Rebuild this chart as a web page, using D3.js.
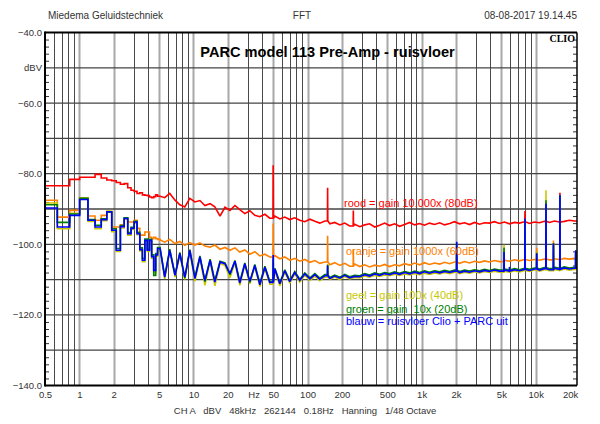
<!DOCTYPE html>
<html lang="nl">
  <head>
    <meta charset="UTF-8" />
    <title>PARC model 113 Pre-Amp - ruisvloer</title>
    <style>
      body {
        margin: 0;
        background: #fff;
      }
      svg text {
        font-family: "Liberation Sans", Arial, sans-serif;
      }
    </style>
  </head>
  <body>
    <svg id="svg" width="600" height="424"></svg>
    <script src="https://cdn.jsdelivr.net/npm/d3@7"></script>
    <script>
      // CONSTANTS
      const WIDTH = 600;
      const HEIGHT = 424;
      const LEFT = 45;
      const RIGHT = 577;
      const TOP = 32.5;
      const BOTTOM = 385.5;
      const N_BINS = 25; // first points are whole FFT bins, drawn as steps

      // frequency points (Hz): FFT bins below 5 Hz, then ~1/23 decade steps
      const freqs = [
        0.5, 0.641, 0.824, 1.007, 1.19, 1.373, 1.556, 1.74, 1.923, 2.106,
        2.289, 2.472, 2.655, 2.838, 3.021, 3.204, 3.387, 3.57, 3.753, 3.936,
        4.119, 4.302, 4.485, 4.668, 4.851,
        5.1, 5.6, 6.2, 6.9, 7.6, 8.4, 9.3, 10.3, 11.4, 12.6,
        14, 15.4, 17.1, 18.9, 20.9, 23.1, 25.5, 28.2, 31.2, 34.5,
        38.2, 42.3, 46.7, 51.7, 57.2, 63.2, 69.9, 77.3, 85.5, 94.6,
        105, 116, 128, 142, 157, 173, 192, 212, 234, 259,
        287, 317, 350, 388, 429, 474, 524, 580, 641, 709,
        785, 868, 960, 1060, 1170, 1300, 1440, 1590, 1760, 1940,
        2150, 2380, 2630, 2910, 3220, 3560, 3930, 4350, 4810, 5320,
        5890, 6510, 7200, 7960, 8810, 9740, 10800, 11900, 13200, 14600,
        16100, 17800, 19700, 21800,
      ];

      // dBV per series (rood = 80dB, oranje = 60dB, geel = 40dB, groen = 20dB, blauw = floor)
      const rood = [
        -83.4, -83.4, -81.6, -81.0, -81.0, -80.2, -81.2, -81.8, -82.0, -82.5,
        -83.0, -82.8, -84.0, -84.7, -85.0, -85.6, -85.4, -86.0, -86.1, -86.2,
        -86.6, -86.8, -86.5, -86.0, -86.4,
        -86.4, -86.8, -85.6, -87.5, -88.8, -89.4, -87.0, -88.0, -87.6, -89.0,
        -88.5, -89.4, -92.0, -89.5, -90.4, -89.0, -90.2, -91.3, -90.5, -91.8,
        -92.2, -91.5, -92.6, -92.0, -92.8, -92.3, -93.0, -92.5, -93.2, -93.6,
        -92.9, -93.5, -94.0, -93.4, -94.2, -93.8, -94.5, -94.0, -94.8, -94.3,
        -95.0, -94.5, -94.2, -95.1, -94.6, -94.0, -94.7, -94.2, -94.9, -94.4,
        -93.8, -94.5, -94.1, -94.6, -94.0, -94.4, -93.9, -94.5, -94.1, -93.6,
        -94.2, -93.9, -94.4, -93.8, -94.3, -93.9, -94.0, -93.6, -94.1, -93.7,
        -94.2, -93.8, -94.0, -93.6, -94.1, -93.7, -93.9, -93.5, -93.8, -93.4,
        -93.7, -93.5, -93.2, -93.4,
      ];
      const oranje = [
        -87.5, -92.3, -90.4, -86.8, -92.0, -93.2, -91.8, -90.8, -95.1, -95.1,
        -94.5, -92.7, -93.7, -93.7, -93.2, -95.5, -97.4, -97.4, -96.5, -96.5,
        -98.0, -98.4, -98.0, -98.4, -98.6,
        -98.8, -99.4, -98.6, -99.8, -99.2, -100.3, -99.5, -100.2, -99.6, -100.5,
        -100.8, -100.2, -101.4, -100.9, -101.7, -101.0, -102.2, -101.6, -102.8, -102.1,
        -103.3, -102.8, -103.6, -103.2, -104.1, -103.6, -104.5, -104.0, -104.8, -104.3,
        -105.1, -104.6, -105.4, -105.0, -105.8, -105.2, -106.0, -105.4, -106.2, -105.6,
        -106.3, -105.8, -106.4, -105.9, -106.2, -105.7, -106.3, -105.8, -106.1, -105.5,
        -105.9, -105.3, -105.8, -105.2, -105.7, -105.3, -105.6, -105.1, -105.5, -105.0,
        -105.4, -104.9, -105.3, -104.8, -105.1, -104.7, -105.0, -104.6, -104.9, -104.5,
        -104.8, -104.4, -104.7, -104.3, -104.6, -104.3, -104.5, -104.2, -104.4, -104.1,
        -104.3, -104.0, -104.2, -104.0,
      ];
      const geel = [
        -88.3, -95.6, -91.2, -86.9, -93.5, -95.6, -93.3, -90.6, -96.4, -102.0,
        -95.4, -92.9, -97.4, -95.8, -94.0, -97.3, -101.9, -104.9, -99.2, -102.0,
        -99.3, -104.0, -108.0, -103.4, -101.6,
        -101.6, -109.8, -102.0, -109.3, -103.0, -109.9, -102.2, -110.5, -104.0, -111.6,
        -104.8, -111.8, -105.4, -106.0, -109.5, -105.2, -111.6, -105.8, -111.2, -106.4,
        -112.0, -106.9, -111.3, -107.4, -111.8, -107.9, -111.0, -108.4, -110.7, -108.8,
        -110.2, -109.0, -110.3, -109.3, -110.0, -109.3, -110.0, -109.1, -109.8, -109.4,
        -109.5, -109.0, -109.3, -108.8, -109.1, -108.7, -108.9, -108.5, -108.8, -108.4,
        -108.7, -108.3, -108.6, -108.2, -108.5, -108.1, -108.4, -108.0, -108.3, -107.9,
        -108.3, -107.9, -108.2, -107.8, -108.1, -107.7, -108.0, -107.6, -107.9, -107.6,
        -107.9, -107.5, -107.8, -107.4, -107.7, -107.3, -107.6, -107.2, -107.5, -107.1,
        -107.4, -107.0, -107.3, -107.1,
      ];
      const groen = [
        -88.8, -93.8, -91.4, -87.0, -93.0, -94.6, -92.8, -90.9, -95.6, -101.2,
        -94.7, -92.5, -96.7, -95.2, -93.5, -96.6, -101.0, -104.0, -98.5, -101.3,
        -98.6, -103.0, -108.8, -102.6, -100.9,
        -101.0, -109.0, -101.4, -108.6, -102.3, -109.6, -101.5, -109.4, -103.3, -110.6,
        -104.2, -110.4, -104.8, -105.3, -108.6, -104.6, -110.6, -105.3, -110.8, -105.7,
        -111.0, -106.2, -110.5, -106.8, -110.8, -107.2, -110.3, -107.7, -109.9, -108.1,
        -109.5, -108.3, -109.6, -108.6, -109.4, -108.7, -109.3, -108.5, -109.2, -108.8,
        -108.9, -108.3, -108.7, -108.1, -108.5, -108.0, -108.3, -107.8, -108.2, -107.7,
        -108.1, -107.6, -108.0, -107.5, -107.9, -107.5, -107.8, -107.4, -107.7, -107.3,
        -107.7, -107.3, -107.6, -107.2, -107.5, -107.1, -107.4, -107.0, -107.3, -107.0,
        -107.3, -106.9, -107.2, -106.8, -107.1, -106.7, -107.0, -106.6, -106.9, -106.5,
        -106.8, -106.4, -106.7, -106.5,
      ];
      const blauw = [
        -89.7, -95.1, -91.8, -87.3, -93.2, -95.1, -93.0, -90.8, -96.0, -101.7,
        -95.0, -92.7, -97.0, -95.5, -93.7, -97.0, -101.5, -104.5, -98.9, -101.7,
        -98.9, -103.5, -107.4, -103.0, -101.2,
        -101.2, -109.3, -101.7, -108.8, -102.6, -109.3, -101.7, -109.7, -103.6, -110.2,
        -104.5, -110.7, -105.0, -105.5, -108.3, -104.8, -111.0, -105.5, -110.5, -106.0,
        -111.5, -106.5, -110.8, -107.0, -111.2, -107.5, -110.6, -108.0, -110.2, -108.4,
        -109.8, -108.6, -109.9, -108.9, -109.7, -109.0, -109.6, -108.8, -109.5, -109.1,
        -109.2, -108.6, -109.0, -108.4, -108.8, -108.3, -108.6, -108.1, -108.5, -108.0,
        -108.4, -107.9, -108.3, -107.8, -108.2, -107.8, -108.1, -107.7, -108.0, -107.6,
        -108.0, -107.6, -107.9, -107.5, -107.8, -107.4, -107.7, -107.3, -107.6, -107.3,
        -107.6, -107.2, -107.5, -107.1, -107.4, -107.0, -107.3, -106.9, -107.2, -106.8,
        -107.1, -106.7, -107.0, -106.8,
      ];

      // narrow hum / interference peaks (null = no peak in that trace)
      const spikeFreqs = [50, 150, 252, 2030, 5280, 5900, 8050, 10200, 12300, 14300, 16300, 22400];
      const roodSpikes = [-77.6, -84.0, -90.4, null, null, null, -90.6, null, -91.5, null, -85.4, null];
      const oranjeSpikes = [-94.1, -97.6, -101.5, -100.5, -101.0, null, -93.5, -101.0, -88.0, -98.9, -86.5, -102.0];
      const geelSpikes = [-104.5, -105.5, null, -99.5, -100.1, -106.6, -93.0, -102.2, -84.7, -99.6, -86.0, -101.8];
      const groenSpikes = [-104.0, -105.8, null, -99.8, -101.0, -106.5, -93.0, -102.4, -87.5, -99.7, -86.0, -101.8];
      const blauwSpikes = [-103.0, -106.0, null, -99.3, -102.2, -106.4, -92.7, -102.6, -88.5, -99.8, -86.1, -101.7];

      const xTickLabels = [0.5, 1, 2, 5, 10, 20, 50, 100, 200, 500, 1000, 2000, 5000, 10000, 20000];
      const yTickLabels = [-40, -50, -60, -80, -100, -120, -140];
      const legendTexts = [
        "rood = gain 10.000x (80dB)",
        "oranje = gain 1000x (60dB)",
        "geel = gain 100x (40dB)",
        "groen = gain  10x (20dB)",
        "blauw = ruisvloer Clio + PARC uit",
      ];

      // styles / layout
      const COLORS = ["#ff0000", "#ff8000", "#c8c800", "#008000", "#0000ff"];
      const LEGEND_X = [344, 346, 346, 346, 346];
      const LEGEND_Y = [207, 254.5, 299, 312.5, 325];

      const x = d3.scaleLog().domain([0.5, 23000]).range([LEFT, RIGHT]);
      const y = d3.scaleLinear().domain([-140, -40]).range([BOTTOM, TOP]);

      const svg = d3.select("#svg");

      svg
        .append("defs")
        .append("clipPath")
        .attr("id", "plot")
        .append("rect")
        .attr("x", LEFT)
        .attr("y", TOP)
        .attr("width", RIGHT - LEFT)
        .attr("height", BOTTOM - TOP);

      // grid
      const isLabelled = (d) => xTickLabels.some((t) => Math.abs(t - d) < 1e-9);
      const grid = svg.append("g");
      const vLines = x.ticks().filter((f) => f > 0.5 && f <= 10000);
      grid
        .selectAll("line.v")
        .data(vLines)
        .enter()
        .append("line")
        .attr("x1", (d) => Math.round(x(d)) + 0.5)
        .attr("x2", (d) => Math.round(x(d)) + 0.5)
        .attr("y1", TOP)
        .attr("y2", BOTTOM)
        .attr("stroke", (d) => (isLabelled(d) ? "#a8a8a8" : "#4a4a4a"))
        .attr("stroke-width", (d) => (isLabelled(d) ? 2 : 1));
      grid
        .selectAll("line.h")
        .data(d3.range(-130, -40, 10))
        .enter()
        .append("line")
        .attr("x1", LEFT)
        .attr("x2", RIGHT)
        .attr("y1", (d) => y(d))
        .attr("y2", (d) => y(d))
        .attr("stroke", "#444")
        .attr("stroke-width", 1.3);

      // minor ticks on both sides
      const minor = d3.range(-138, -40, 2).filter((d) => d % 10 !== 0);
      svg
        .append("g")
        .attr("transform", `translate(${LEFT},0)`)
        .call(d3.axisLeft(y).tickValues(minor).tickSize(-4).tickFormat(""))
        .call((g) => g.select(".domain").remove())
        .selectAll("line")
        .attr("stroke", "#333");
      svg
        .append("g")
        .attr("transform", `translate(${RIGHT},0)`)
        .call(d3.axisRight(y).tickValues(minor).tickSize(-4).tickFormat(""))
        .call((g) => g.select(".domain").remove())
        .selectAll("line")
        .attr("stroke", "#333");

      // traces: steps over the low FFT bins, straight segments above
      function buildPoints(values, spikes) {
        const pts = [];
        freqs.forEach((f, i) => {
          pts.push([f, values[i]]);
          if (i < N_BINS) pts.push([freqs[i + 1], values[i]]);
        });
        spikeFreqs.forEach((f, j) => {
          if (spikes[j] == null) return;
          const i = d3.bisectRight(freqs, f) - 1;
          pts.push([f * 0.996, values[i]], [f, spikes[j]], [f * 1.004, values[i]]);
        });
        pts.push([23000, values[values.length - 1]]);
        return pts.sort((a, b) => a[0] - b[0]);
      }
      const series = [
        buildPoints(rood, roodSpikes),
        buildPoints(oranje, oranjeSpikes),
        buildPoints(geel, geelSpikes),
        buildPoints(groen, groenSpikes),
        buildPoints(blauw, blauwSpikes),
      ];
      const lineGen = d3
        .line()
        .x((d) => x(d[0]))
        .y((d) => y(d[1]));
      svg
        .append("g")
        .attr("clip-path", "url(#plot)")
        .selectAll("path")
        .data(series)
        .enter()
        .append("path")
        .attr("d", lineGen)
        .attr("fill", "none")
        .attr("stroke", (d, i) => COLORS[i])
        .attr("stroke-width", 1.6)
        .attr("stroke-linejoin", "miter")
        .attr("stroke-miterlimit", 2);

      // frame
      const frame = svg.append("g").attr("stroke", "#000").attr("fill", "none");
      frame.append("line").attr("x1", LEFT).attr("x2", LEFT).attr("y1", TOP - 1).attr("y2", BOTTOM + 1).attr("stroke-width", 2);
      frame.append("line").attr("x1", LEFT).attr("x2", RIGHT).attr("y1", TOP).attr("y2", TOP).attr("stroke-width", 2);
      frame.append("line").attr("x1", LEFT).attr("x2", RIGHT).attr("y1", BOTTOM).attr("y2", BOTTOM).attr("stroke-width", 2);
      frame.append("line").attr("x1", RIGHT).attr("x2", RIGHT).attr("y1", TOP).attr("y2", BOTTOM).attr("stroke-width", 1.5);

      // axis labels
      const yAxis = svg
        .append("g")
        .attr("transform", `translate(${LEFT},0)`)
        .call(
          d3
            .axisLeft(y)
            .tickValues(yTickLabels)
            .tickSize(0)
            .tickPadding(3)
            .tickFormat((d) => (d === -50 ? "dBV" : d3.format(".1f")(d)))
        );
      yAxis.select(".domain").remove();
      yAxis.selectAll("text").attr("font-size", 9.5).attr("fill", "#333").style("font-family", "Liberation Sans, Arial, sans-serif");

      const xAxis = svg
        .append("g")
        .attr("transform", `translate(0,${BOTTOM})`)
        .call(
          d3
            .axisBottom(x)
            .tickValues(xTickLabels)
            .tickSize(0)
            .tickPadding(6)
            .tickFormat((d) => (d >= 1000 ? d / 1000 + "k" : String(d)))
        );
      xAxis.select(".domain").remove();
      xAxis.selectAll("text").attr("font-size", 9.5).attr("fill", "#333").style("font-family", "Liberation Sans, Arial, sans-serif");

      svg
        .append("text")
        .attr("x", x(34))
        .attr("y", BOTTOM + 12.5)
        .attr("text-anchor", "middle")
        .attr("font-size", 9.5)
        .attr("fill", "#333")
        .text("Hz");

      // header
      svg.append("text").attr("x", 48).attr("y", 19).attr("font-size", 10).attr("fill", "#333").text("Miedema Geluidstechniek");
      svg.append("text").attr("x", 302).attr("y", 19).attr("font-size", 10).attr("fill", "#333").attr("text-anchor", "middle").text("FFT");
      svg.append("text").attr("x", 577).attr("y", 19).attr("font-size", 10).attr("fill", "#333").attr("text-anchor", "end").text("08-08-2017 19.14.45");
      svg
        .append("text")
        .attr("x", 305)
        .attr("y", 414)
        .attr("font-size", 9.5)
        .attr("fill", "#333")
        .attr("text-anchor", "middle")
        .style("white-space", "pre")
        .text("CH A   dBV   48kHz   262144   0.18Hz   Hanning   1/48 Octave");

      // title and brand
      svg
        .append("text")
        .attr("x", 327.5)
        .attr("y", 57)
        .attr("text-anchor", "middle")
        .attr("font-size", 14.6)
        .attr("font-weight", "bold")
        .attr("fill", "#000")
        .text("PARC model 113 Pre-Amp - ruisvloer");
      svg
        .append("text")
        .attr("x", 575)
        .attr("y", 42)
        .attr("text-anchor", "end")
        .attr("font-size", 10)
        .attr("font-weight", "bold")
        .style("font-family", "Liberation Serif, Times New Roman, serif")
        .text("CLIO");

      // legend
      svg
        .append("g")
        .selectAll("text")
        .data(legendTexts)
        .enter()
        .append("text")
        .attr("x", (d, i) => LEGEND_X[i])
        .attr("y", (d, i) => LEGEND_Y[i])
        .attr("font-size", 11)
        .attr("fill", (d, i) => COLORS[i])
        .style("white-space", "pre")
        .text((d) => d);
    </script>
  </body>
</html>
